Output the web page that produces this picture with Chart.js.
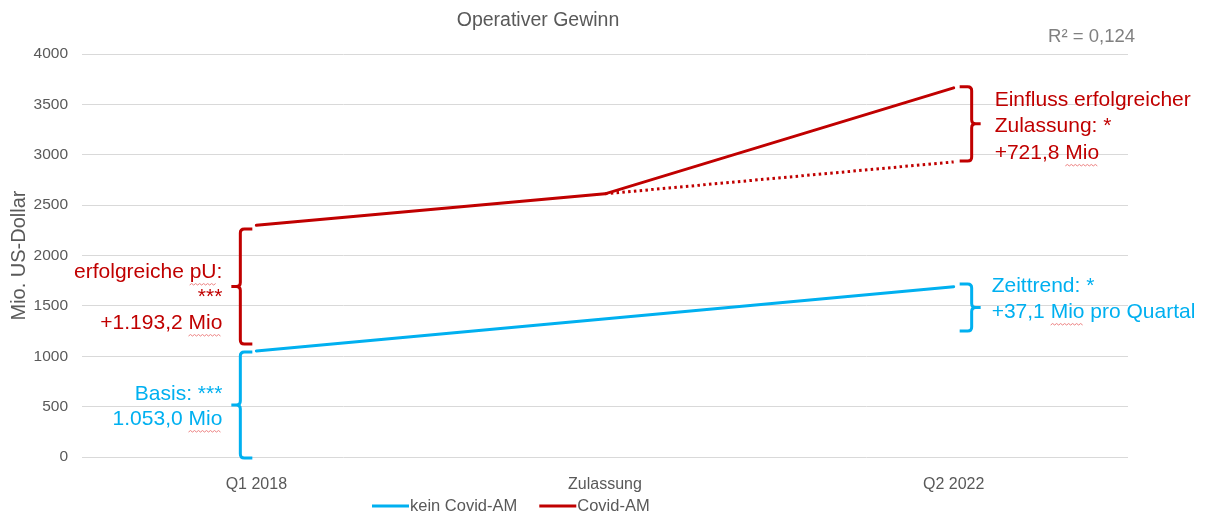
<!DOCTYPE html>
<html>
<head>
	<meta charset="UTF-8">
	<title>Operativer Gewinn</title>
	<script src="https://cdn.jsdelivr.net/npm/chart.js@4.4.1/dist/chart.umd.min.js"></script>
	<style>
		body {
			margin:0;
			padding:0;
			overflow: hidden;
			background: #fff;
		}
	</style>
</head>
<body>
	<canvas id="chart" width="1209" height="516"></canvas>
	<script>
		// data
		const categories = ['Q1 2018', 'Zulassung', 'Q2 2022'];
		const keinCovid = [1053, null, 1690];
		const covid = [2300, 2612, 3664];
		const covidOhneZulassung = [null, 2612, 2929];
		const yTicks = [0, 500, 1000, 1500, 2000, 2500, 3000, 3500, 4000];

		// braces: [category index, from, to]
		const braceBasis = [0, 0, 1043];
		const braceErfolg = [0, 1122, 2264];
		const braceZulassung = [2, 2939, 3674];
		const braceZeit = [2, 1251, 1718];

		// annotation texts: [category index, y of first line, lines]
		const textBasis = [0, 625, ['Basis: ***', '1.053,0 Mio']];
		const textErfolg = [0, 1836, ['erfolgreiche pU:', '***', '+1.193,2 Mio']];
		const textZulassung = [2, 3544, ['Einfluss erfolgreicher', 'Zulassung: *', '+721,8 Mio']];
		const textZeit = [2, 1697, ['Zeittrend: *', '+37,1 Mio pro Quartal']];

		const BLUE = '#00B0F0';
		const RED = '#C00000';
		const GREY = '#595959';
		const FONT = '"Liberation Sans", Arial, sans-serif';

		function brace(ctx, x, yTop, yBot, dir, color) {
			// dir = 1: hooks point right, nub points left
			const r = 4, hook = 12, nub = 9;
			const mid = (yTop + yBot) / 2;
			ctx.save();
			ctx.strokeStyle = color;
			ctx.lineWidth = 3;
			ctx.lineJoin = 'round';
			ctx.beginPath();
			ctx.moveTo(x + hook * dir, yTop);
			ctx.lineTo(x + r * dir, yTop);
			ctx.quadraticCurveTo(x, yTop, x, yTop + r);
			ctx.lineTo(x, mid - r);
			ctx.quadraticCurveTo(x, mid, x - r * dir, mid);
			ctx.lineTo(x - nub * dir, mid);
			ctx.moveTo(x - r * dir, mid);
			ctx.quadraticCurveTo(x, mid, x, mid + r);
			ctx.lineTo(x, yBot - r);
			ctx.quadraticCurveTo(x, yBot, x + r * dir, yBot);
			ctx.lineTo(x + hook * dir, yBot);
			ctx.stroke();
			ctx.restore();
		}

		function squiggle(ctx, x1, x2, y) {
			ctx.save();
			ctx.strokeStyle = '#EC8080';
			ctx.lineWidth = 1;
			ctx.beginPath();
			ctx.moveTo(x1, y);
			let up = true;
			for (let x = x1 + 2; x <= x2; x += 2) {
				ctx.lineTo(x, up ? y - 1.5 : y);
				up = !up;
			}
			ctx.stroke();
			ctx.restore();
		}

		function textBlock(ctx, chart, t, dx, align, lineH, color, marks) {
			const xs = chart.scales.x, ys = chart.scales.y;
			const x = xs.getPixelForValue(t[0]) + dx;
			let y = ys.getPixelForValue(t[1]);
			ctx.save();
			ctx.font = '21px ' + FONT;
			ctx.fillStyle = color;
			ctx.textAlign = align;
			ctx.textBaseline = 'middle';
			t[2].forEach((line, i) => {
				ctx.fillText(line, x, y);
				(marks[i] || []).forEach(word => {
					const idx = line.indexOf(word);
					const full = ctx.measureText(line).width;
					const left = align === 'right' ? x - full : x;
					const a = left + ctx.measureText(line.slice(0, idx)).width;
					const b = a + ctx.measureText(word).width;
					squiggle(ctx, a, b, y + 13);
				});
				y += lineH;
			});
			ctx.restore();
		}

		const decorations = {
			id: 'decorations',
			afterDatasetsDraw(chart) {
				const ctx = chart.ctx;
				const xs = chart.scales.x, ys = chart.scales.y;
				const px = i => xs.getPixelForValue(i);
				const py = v => ys.getPixelForValue(v);

				brace(ctx, px(braceBasis[0]) - 16, py(braceBasis[2]), py(braceBasis[1]) + 1, 1, BLUE);
				brace(ctx, px(braceErfolg[0]) - 16, py(braceErfolg[2]), py(braceErfolg[1]), 1, RED);
				brace(ctx, px(braceZulassung[0]) + 18, py(braceZulassung[2]), py(braceZulassung[1]), -1, RED);
				brace(ctx, px(braceZeit[0]) + 18, py(braceZeit[2]), py(braceZeit[1]), -1, BLUE);

				textBlock(ctx, chart, textBasis, -34, 'right', 25, BLUE, [[], ['Mio']]);
				textBlock(ctx, chart, textErfolg, -34, 'right', 25.5, RED, [['pU'], [], ['Mio']]);
				textBlock(ctx, chart, textZulassung, 41, 'left', 26.5, RED, [[], [], ['Mio']]);
				textBlock(ctx, chart, textZeit, 38, 'left', 26, BLUE, [[], ['Mio']]);

				// title and R²
				ctx.save();
				ctx.fillStyle = GREY;
				ctx.font = '19.5px ' + FONT;
				ctx.textAlign = 'center';
				ctx.textBaseline = 'middle';
				ctx.fillText('Operativer Gewinn', 538, 21);
				ctx.fillStyle = '#808080';
				ctx.font = '18.5px ' + FONT;
				ctx.textAlign = 'right';
				ctx.fillText('R² = 0,124', 1135, 37);
				ctx.restore();

				// legend
				ctx.save();
				ctx.font = '16.5px ' + FONT;
				ctx.textBaseline = 'middle';
				ctx.textAlign = 'left';
				ctx.fillStyle = GREY;
				let lx = 372;
				const ly = 506;
				[[chart.data.datasets[0].label, BLUE], [chart.data.datasets[1].label, RED]].forEach(([label, color]) => {
					ctx.strokeStyle = color;
					ctx.lineWidth = 3;
					ctx.beginPath();
					ctx.moveTo(lx, ly);
					ctx.lineTo(lx + 37, ly);
					ctx.stroke();
					ctx.fillText(label, lx + 38, ly);
					lx += 38 + ctx.measureText(label).width + 22;
				});
				ctx.restore();
			}
		};

		const ctx = document.getElementById('chart').getContext('2d');
		new Chart(ctx, {
			type: 'line',
			data: {
				labels: categories,
				datasets: [
					{ label: 'kein Covid-AM', data: keinCovid, borderColor: BLUE, borderWidth: 3, pointRadius: 0, spanGaps: true, borderCapStyle: 'round' },
					{ label: 'Covid-AM', data: covid, borderColor: RED, borderWidth: 3, pointRadius: 0, borderCapStyle: 'round' },
					{ label: 'Covid-AM ohne Zulassung', data: covidOhneZulassung, borderColor: RED, borderWidth: 3, pointRadius: 0, borderDash: [2.5, 3.3] }
				]
			},
			options: {
				responsive: false,
				animation: false,
				events: [],
				layout: { padding: { top: 54, right: 81, left: 0, bottom: 0 } },
				plugins: {
					legend: { display: false },
					title: { display: false },
					tooltip: { enabled: false }
				},
				scales: {
					x: {
						offset: true,
						grid: { display: false },
						border: { display: false },
						ticks: { color: GREY, font: { family: FONT, size: 16 }, padding: 10 },
						afterFit(scale) { scale.height = 59; }
					},
					y: {
						min: 0,
						max: 4000,
						afterBuildTicks(scale) { scale.ticks = yTicks.map(v => ({ value: v })); },
						grid: { color: '#D9D9D9', lineWidth: 1, drawTicks: false },
						border: { display: false },
						ticks: { color: GREY, font: { family: FONT, size: 15.5 }, padding: 14, callback: v => String(v) },
						title: { display: true, text: 'Mio. US-Dollar', color: GREY, font: { family: FONT, size: 20 }, padding: { top: 7, bottom: 0 } },
						afterFit(scale) { scale.width = 82; }
					}
				}
			},
			plugins: [decorations]
		});
	</script>
</body>
</html>
